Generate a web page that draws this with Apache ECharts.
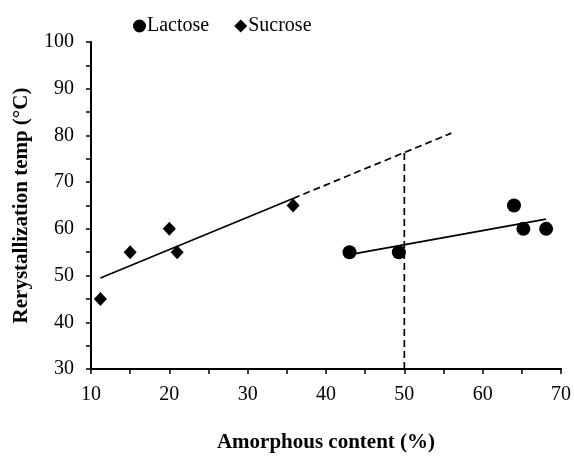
<!DOCTYPE html>
<html>
<head>
<meta charset="utf-8">
<script src="https://cdn.jsdelivr.net/npm/echarts@6/dist/echarts.min.js"></script>
<style>
html,body{margin:0;padding:0;background:#fff;}
#chart{width:574px;height:458px;}
</style>
</head>
<body>
<div id="chart"></div>
<script>
// ---- data ----
var lactoseX = [43, 49.3, 64, 65.2, 68.1];
var lactoseY = [55, 55, 65, 60, 60];
var sucroseX = [11.2, 15, 20, 21, 35.8];
var sucroseY = [45, 55, 60, 55, 65];
var sucroseExtendTo = 56;   // dashed extrapolation end (x)
var referenceX = 50;        // vertical dashed marker (x)
var xTicks = [10, 20, 30, 40, 50, 60, 70];
var yTicks = [30, 40, 50, 60, 70, 80, 90, 100];

function fit(xs, ys) {
  var n = xs.length, mx = 0, my = 0;
  for (var i = 0; i < n; i++) { mx += xs[i]; my += ys[i]; }
  mx /= n; my /= n;
  var sxy = 0, sxx = 0;
  for (var j = 0; j < n; j++) { sxy += (xs[j]-mx)*(ys[j]-my); sxx += (xs[j]-mx)*(xs[j]-mx); }
  var b = sxy / sxx, a = my - b * mx;
  return function (x) { return a + b * x; };
}
function pairs(xs, ys) { return xs.map(function (x, i) { return [x, ys[i]]; }); }

var fL = fit(lactoseX, lactoseY);
var fS = fit(sucroseX, sucroseY);
var lMin = Math.min.apply(null, lactoseX), lMax = Math.max.apply(null, lactoseX);
var sMin = Math.min.apply(null, sucroseX), sMax = Math.max.apply(null, sucroseX);

var font = 'Liberation Serif';
var chart = echarts.init(document.getElementById('chart'));
chart.setOption({
  animation: false,
  textStyle: { fontFamily: font },
  legend: {
    data: ['Lactose', 'Sucrose'],
    left: 128, top: 11,
    itemWidth: 13, itemHeight: 13, itemGap: 25,
    textStyle: { fontFamily: font, fontSize: 20, color: '#000', padding: [0,0,0,-4] }
  },
  grid: { left: 91, right: 11, top: 42, bottom: 88 },
  xAxis: {
    type: 'value', min: xTicks[0], max: xTicks[xTicks.length-1], interval: 10,
    name: 'Amorphous content (%)', nameLocation: 'middle', nameGap: 63,
    nameTextStyle: { fontFamily: font, fontSize: 21, fontWeight: 'bold', color: '#000' },
    axisLine: { lineStyle: { color: '#000', width: 2 } },
    axisTick: { show: true, inside: false, length: 5, lineStyle: { color: '#000', width: 1.5 } },
    minorTick: { show: true, splitNumber: 2, length: 5, lineStyle: { color: '#000', width: 1.5 } },
    axisLabel: { fontFamily: font, fontSize: 20, color: '#000', margin: 16 },
    splitLine: { show: false }
  },
  yAxis: {
    type: 'value', min: yTicks[0], max: yTicks[yTicks.length-1], interval: 10,
    name: 'Rerystallization temp (°C)', nameLocation: 'middle', nameGap: 59, nameRotate: 90,
    nameTextStyle: { fontFamily: font, fontSize: 21, fontWeight: 'bold', color: '#000' },
    axisLine: { show: true, lineStyle: { color: '#000', width: 2 } },
    axisTick: { show: true, inside: false, length: 5, lineStyle: { color: '#000', width: 1.5 } },
    minorTick: { show: true, splitNumber: 2, length: 5, lineStyle: { color: '#000', width: 1.5 } },
    axisLabel: { fontFamily: font, fontSize: 20, color: '#000', margin: 17 },
    splitLine: { show: false }
  },
  series: [
    {
      name: 'SucroseTrend', type: 'line', silent: true, symbol: 'none',
      data: [[sMin, fS(sMin)], [sMax, fS(sMax)]],
      lineStyle: { color: '#000', width: 1.7 }, z: 1
    },
    {
      name: 'SucroseExtrap', type: 'line', silent: true, symbol: 'none',
      data: [[sMax, fS(sMax)], [sucroseExtendTo, fS(sucroseExtendTo)]],
      lineStyle: { color: '#000', width: 1.7, type: [7, 4] }, z: 1
    },
    {
      name: 'RefLine', type: 'line', silent: true, symbol: 'none',
      data: [[referenceX, yTicks[0]], [referenceX, fS(referenceX)]],
      lineStyle: { color: '#000', width: 1.7, type: [7, 4] }, z: 1
    },
    {
      name: 'LactoseTrend', type: 'line', silent: true, symbol: 'none',
      data: [[lMin, fL(lMin)], [lMax, fL(lMax)]],
      lineStyle: { color: '#000', width: 1.7 }, z: 1
    },
    {
      name: 'Lactose', type: 'scatter', symbol: 'circle', symbolSize: 14,
      data: pairs(lactoseX, lactoseY), itemStyle: { color: '#000', opacity: 1 }, z: 3
    },
    {
      name: 'Sucrose', type: 'scatter', symbol: 'diamond', symbolSize: [13, 14],
      data: pairs(sucroseX, sucroseY), itemStyle: { color: '#000', opacity: 1 }, z: 3
    }
  ]
});
</script>
</body>
</html>
